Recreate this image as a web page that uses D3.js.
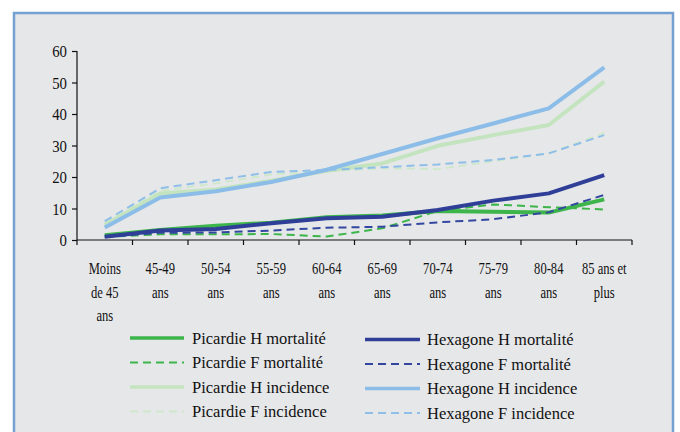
<!DOCTYPE html>
<html>
<head>
<meta charset="utf-8">
<script src="https://cdn.jsdelivr.net/npm/d3@7"></script>
<style>
  html, body { margin: 0; padding: 0; background: #ffffff; }
  svg { display: block; }
  text { font-family: "Liberation Serif", "Times New Roman", serif; fill: #111; }
</style>
</head>
<body>
<svg id="chart" width="680" height="432"></svg>
<script>
// Age groups (multi-line labels)
const categories = [
  ["Moins", "de 45", "ans"],
  ["45-49", "ans"],
  ["50-54", "ans"],
  ["55-59", "ans"],
  ["60-64", "ans"],
  ["65-69", "ans"],
  ["70-74", "ans"],
  ["75-79", "ans"],
  ["80-84", "ans"],
  ["85 ans et", "plus"]
];

const yTicks = [0, 10, 20, 30, 40, 50, 60];

// Rates per series
const picardieHMortalite = [1.5, 3.2, 4.5, 5.5, 7.2, 7.8, 9.2, 9.0, 8.7, 12.9];
const picardieFMortalite = [1.0, 1.8, 1.8, 1.9, 1.1, 3.7, 9.2, 11.3, 10.4, 9.7];
const picardieHIncidence = [4.8, 14.8, 16.0, 18.8, 22.0, 24.3, 29.9, 33.3, 36.5, 50.3];
const picardieFIncidence = [5.5, 15.6, 18.0, 20.8, 21.8, 22.8, 22.5, 25.0, 27.5, 34.0];
const hexagoneHMortalite = [1.0, 3.0, 3.5, 5.3, 6.9, 7.4, 9.5, 12.5, 14.8, 20.6];
const hexagoneFMortalite = [1.0, 2.3, 2.4, 3.0, 3.9, 4.2, 5.6, 6.6, 8.8, 14.3];
const hexagoneHIncidence = [4.0, 13.5, 15.5, 18.4, 22.3, 27.3, 32.3, 37.0, 41.8, 54.8];
const hexagoneFIncidence = [6.0, 16.4, 19.0, 21.6, 22.2, 23.1, 24.0, 25.4, 27.5, 33.3];

const series = [
  { name: "Picardie F incidence", values: picardieFIncidence, color: "#cfe8cc", width: 2, dash: "8,5", col: 0, row: 3 },
  { name: "Picardie H incidence", values: picardieHIncidence, color: "#c4e4c0", width: 4, dash: null, col: 0, row: 2 },
  { name: "Hexagone F incidence", values: hexagoneFIncidence, color: "#8fbfe8", width: 2, dash: "8,5", col: 1, row: 3 },
  { name: "Hexagone H incidence", values: hexagoneHIncidence, color: "#8bbde8", width: 4, dash: null, col: 1, row: 2 },
  { name: "Picardie F mortalité", values: picardieFMortalite, color: "#3cb54a", width: 2, dash: "8,5", col: 0, row: 1 },
  { name: "Picardie H mortalité", values: picardieHMortalite, color: "#3cb54a", width: 4, dash: null, col: 0, row: 0 },
  { name: "Hexagone F mortalité", values: hexagoneFMortalite, color: "#3447a0", width: 2, dash: "8,5", col: 1, row: 1 },
  { name: "Hexagone H mortalité", values: hexagoneHMortalite, color: "#2f3f98", width: 4, dash: null, col: 1, row: 0 }
];

const svg = d3.select("#chart");

// Panel with blue frame
svg.append("rect")
  .attr("x", 14).attr("y", 13)
  .attr("width", 659).attr("height", 430)
  .attr("fill", "#e6e7e9")
  .attr("stroke", "#74a0d2")
  .attr("stroke-width", 2.5);

const plot = { left: 77, right: 632, top: 51, bottom: 240 };

const x = d3.scaleBand()
  .domain(d3.range(categories.length))
  .range([plot.left, plot.right])
  .paddingInner(0).paddingOuter(0);

const y = d3.scaleLinear().domain([0, 60]).range([plot.bottom, plot.top]);

// Y axis line and ticks; labels drawn separately in a narrow serif
const yAxis = svg.append("g")
  .attr("transform", `translate(${plot.left},0)`)
  .call(d3.axisLeft(y).tickValues(yTicks).tickSize(5).tickFormat(""));
yAxis.select(".domain").attr("stroke", "#111").attr("stroke-width", 1.2).attr("d", `M0,${plot.top}V${plot.bottom}`);
yAxis.selectAll(".tick line").attr("stroke", "#111").attr("stroke-width", 1.2);

svg.append("g").selectAll("text").data(yTicks).join("text")
  .attr("transform", d => `translate(67,${y(d) + 6}) scale(0.87,1)`)
  .attr("text-anchor", "end")
  .style("font-size", "17px")
  .text(d => d3.format("d")(d));

// X axis: ticks at band boundaries
const xg = svg.append("g");
xg.append("line")
  .attr("x1", plot.left).attr("x2", plot.right)
  .attr("y1", plot.bottom).attr("y2", plot.bottom)
  .attr("stroke", "#111").attr("stroke-width", 1.2);
const boundaries = d3.range(categories.length + 1).map(i =>
  i < categories.length ? x(i) : x(categories.length - 1) + x.bandwidth());
xg.selectAll("line.tk").data(boundaries).join("line")
  .attr("class", "tk")
  .attr("x1", d => d).attr("x2", d => d)
  .attr("y1", plot.bottom).attr("y2", plot.bottom + 5)
  .attr("stroke", "#111").attr("stroke-width", 1.2);

// Category labels
const labels = svg.append("g");
categories.forEach((lines, i) => {
  const cx = x(i) + x.bandwidth() / 2;
  lines.forEach((ln, j) => {
    labels.append("text")
      .attr("transform", `translate(${cx},${274 + j * 23.5}) scale(0.74,1)`)
      .attr("text-anchor", "middle")
      .style("font-size", "17px")
      .text(ln);
  });
});

// Lines
const line = d3.line()
  .x((d, i) => x(i) + x.bandwidth() / 2)
  .y(d => y(d));

svg.append("g").selectAll("path").data(series).join("path")
  .attr("d", d => line(d.values))
  .attr("fill", "none")
  .attr("stroke", d => d.color)
  .attr("stroke-width", d => d.width)
  .attr("stroke-dasharray", d => d.dash)
  .attr("stroke-linejoin", "round");

// Legend
const legendCols = [
  { x1: 130, x2: 184, tx: 192, y0: 338 },
  { x1: 365, x2: 420, tx: 427, y0: 339.5 }
];
const rowGap = 24.5;
const legend = svg.append("g");
series.forEach(s => {
  const c = legendCols[s.col];
  const yy = c.y0 + s.row * rowGap;
  legend.append("line")
    .attr("x1", c.x1).attr("x2", c.x2)
    .attr("y1", yy).attr("y2", yy)
    .attr("stroke", s.color)
    .attr("stroke-width", s.width === 4 ? 3.5 : 2)
    .attr("stroke-dasharray", s.dash);
  legend.append("text")
    .attr("x", c.tx).attr("y", yy + 5.5)
    .style("font-size", "16.5px")
    .text(s.name);
});
</script>
</body>
</html>
